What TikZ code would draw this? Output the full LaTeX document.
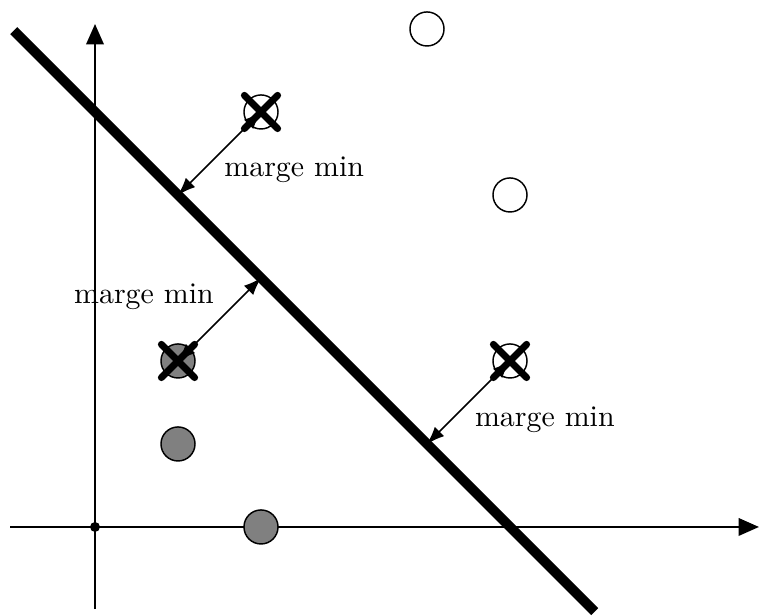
\documentclass[tikz,border=0pt]{standalone}
\usetikzlibrary{arrows.meta,calc}
\begin{document}
\begin{tikzpicture}[x=1cm,y=1cm,
  pt/.style={circle,draw=black,line width=0.5pt,minimum size=0.41cm,inner sep=0pt},
  ptw/.style={pt,fill=white},
  ptg/.style={pt,fill=black!50},
  crossmark/.style={line width=2.4pt,line cap=round},
  axis/.style={line width=0.7pt,-{Triangle[length=7pt,width=6pt]}},
  marge/.style={<->,>={Latex[length=6pt,width=4.5pt]},line width=0.5pt},
  lbl/.style={font=\fontsize{10.25}{12}\selectfont}]
\useasboundingbox (-1.1446,-1.0723) rectangle (8.012,6.349);
% axes
\coordinate (xs) at (-1.02,0);
\coordinate (xe) at (8.0,0);
\coordinate (ys) at (0,-0.99);
\coordinate (ye) at (0,6.06);
\draw[axis] (xs) -- (xe);
\draw[axis] (ys) -- (ye);
\node[circle,fill=black,inner sep=0pt,minimum size=0.12cm] (o) at (0,0) {};
% separating line
\coordinate (l1) at (-0.98,5.98);
\coordinate (l2) at (6.02,-1.02);
\draw[line width=3.4pt] (l1) -- (l2);
% points
\node[ptw] (w1) at (4,6) {};
\node[ptw] (w2) at (5,4) {};
\node[ptw] (w3) at (2,5) {};
\node[ptw] (w4) at (5,2) {};
\node[ptg] (g1) at (1,2) {};
\node[ptg] (g2) at (1,1) {};
\node[ptg] (g3) at (2,0) {};
% feet
\coordinate (f3) at (1,4);
\coordinate (f1) at (2,3);
\coordinate (f4) at (4,1);
\draw[marge] (w3.center) -- (f3);
\draw[marge] (g1.center) -- (f1);
\draw[marge] (w4.center) -- (f4);
% crosses
\foreach \p in {w3,g1,w4}{
  \draw[crossmark] ($(\p)+(-0.2,0.2)$) -- ($(\p)+(0.2,-0.2)$);
  \draw[crossmark] ($(\p)+(-0.2,-0.2)$) -- ($(\p)+(0.2,0.2)$);
}
% labels
\node[lbl] (m1) at (2.40,4.30) {marge min};
\node[lbl] (m2) at (0.59,2.77) {marge min};
\node[lbl] (m3) at (5.42,1.29) {marge min};
\end{tikzpicture}
\end{document}
